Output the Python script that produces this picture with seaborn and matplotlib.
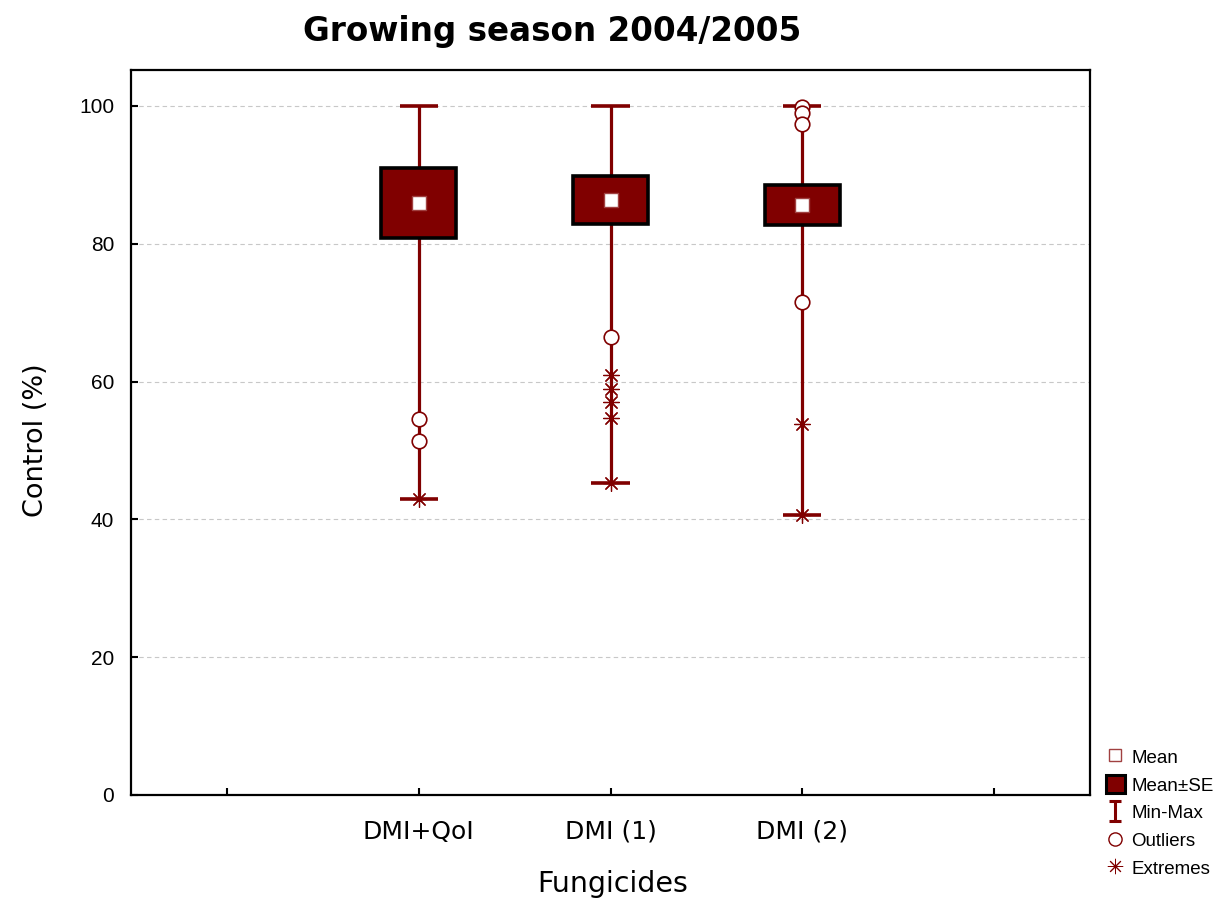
import numpy as np
import pandas as pd
import matplotlib
matplotlib.use("Agg")
import matplotlib.pyplot as plt
import seaborn as sns
from matplotlib.lines import Line2D
from matplotlib.patches import Patch
from matplotlib.path import Path

# -------------------------
# Data
# -------------------------
groups = ["DMI+QoI", "DMI (1)", "DMI (2)"]
means = [85.9, 86.3, 85.6]
se = [5.1, 3.5, 2.95]
mins = [43.0, 45.3, 40.7]
maxs = [100.0, 100.0, 100.0]

outlier_group = ["DMI+QoI", "DMI+QoI", "DMI (1)", "DMI (2)", "DMI (2)", "DMI (2)", "DMI (2)"]
outlier_value = [54.5, 51.4, 66.5, 71.5, 99.9, 98.9, 97.4]

extreme_group = ["DMI+QoI", "DMI (1)", "DMI (1)", "DMI (1)", "DMI (1)", "DMI (1)", "DMI (2)", "DMI (2)"]
extreme_value = [43.0, 60.9, 58.9, 57.0, 54.7, 45.3, 53.9, 40.7]

RED = "#800000"


def main():

    sns.set_theme(style="ticks")
    plt.rcParams["font.family"] = ["Liberation Sans", "DejaVu Sans"]
    plt.rcParams["text.color"] = "black"
    plt.rcParams["axes.labelcolor"] = "black"
    plt.rcParams["xtick.color"] = "black"
    plt.rcParams["ytick.color"] = "black"

    fig = plt.figure(figsize=(12.22, 9.06), dpi=100)
    ax = fig.add_axes([131 / 1222, 1 - 795 / 906, (1090 - 131) / 1222, (795 - 70) / 906])

    pos = {g: i for i, g in enumerate(groups)}
    x = np.arange(len(groups))
    means_a = np.array(means)
    se_a = np.array(se)

    # grid
    for v in [20, 40, 60, 80, 100]:
        ax.axhline(v, color="#c8c8c8", lw=0.8, ls=(0, (4, 3)), zorder=0)

    # whiskers and caps
    ax.vlines(x, mins, maxs, color=RED, lw=2.3, zorder=2)
    ax.hlines(mins, x - 0.1, x + 0.1, color=RED, lw=2.6, zorder=2)
    ax.hlines(maxs, x - 0.1, x + 0.1, color=RED, lw=2.6, zorder=2)

    # mean +- SE boxes
    ax.bar(x, 2 * se_a, bottom=means_a - se_a, width=0.39, color=RED,
           edgecolor="black", linewidth=2.6, zorder=3)

    # outliers
    out_df = pd.DataFrame({"x": [pos[g] for g in outlier_group], "y": outlier_value})
    sns.scatterplot(data=out_df, x="x", y="y", ax=ax, marker="o", s=110,
                    facecolor="white", edgecolor=RED, linewidth=1.2, zorder=4)

    # extremes
    ext_df = pd.DataFrame({"x": [pos[g] for g in extreme_group], "y": extreme_value})
    sns.scatterplot(data=ext_df, x="x", y="y", ax=ax, marker=(8, 2, 0), s=130,
                    color=RED, linewidth=0.9, zorder=4)

    # means
    mean_df = pd.DataFrame({"x": x, "y": means})
    sns.scatterplot(data=mean_df, x="x", y="y", ax=ax, marker="s", s=110,
                    facecolor="white", edgecolor="#a04040", linewidth=1.0, zorder=5)

    ax.set_xlim(-1.5, 3.5)
    ax.set_ylim(0, 105.2)
    ax.set_xticks([-1, 0, 1, 2, 3])
    ax.set_xticklabels(["", *groups, ""], fontsize=18, family="DejaVu Sans")
    ax.set_yticks([0, 20, 40, 60, 80, 100])
    ax.set_yticklabels(["0", "20", "40", "60", "80", "100"], fontsize=15)
    ax.tick_params(direction="in", length=5, width=1.5, colors="black", pad=12)
    ax.tick_params(axis="x", pad=18)

    for s in ax.spines.values():
        s.set_visible(True)
        s.set_linewidth(1.6)
        s.set_color("black")

    ax.set_xlabel("")
    ax.set_ylabel("")

    fig.text(552 / 1222, 1 - 31 / 906, "Growing season 2004/2005", ha="center", va="center",
             fontsize=23.5, fontweight="bold", family="DejaVu Sans")
    fig.text(36 / 1222, 1 - 440 / 906, "Control (%)", ha="center", va="center",
             rotation=90, fontsize=19.5, family="DejaVu Sans")
    fig.text(613 / 1222, 1 - 884 / 906, "Fungicides", ha="center", va="center",
             fontsize=20.5, family="DejaVu Sans")

    # legend
    minmax = Path([(-0.6, 1), (0.6, 1), (0, 1), (0, -1), (-0.6, -1), (0.6, -1)],
                  [Path.MOVETO, Path.LINETO, Path.MOVETO, Path.LINETO, Path.MOVETO, Path.LINETO])
    handles = [
        Line2D([], [], marker="s", ls="", ms=9, mfc="white", mec="#a04040", mew=1.0),
        Patch(facecolor=RED, edgecolor="black", linewidth=2.2),
        Line2D([], [], marker=minmax, ls="", ms=14, mfc="none", mec=RED, mew=2.2),
        Line2D([], [], marker="o", ls="", ms=9.5, mfc="white", mec=RED, mew=1.0),
        Line2D([], [], marker=(8, 2, 0), ls="", ms=11, color=RED, mew=0.7),
    ]
    labels = ["Mean", "Mean\u00b1SE", "Min-Max", "Outliers", "Extremes"]
    fig.legend(handles, labels, loc="lower left", bbox_to_anchor=(1106 / 1222, 1 - 878 / 906),
               frameon=False, fontsize=13.5, handlelength=1.0, handleheight=1.1,
               handletextpad=0.35, labelspacing=0.45, borderpad=0, borderaxespad=0)

    fig.savefig("out.png", dpi=100)


if __name__ == "__main__":
    main()
